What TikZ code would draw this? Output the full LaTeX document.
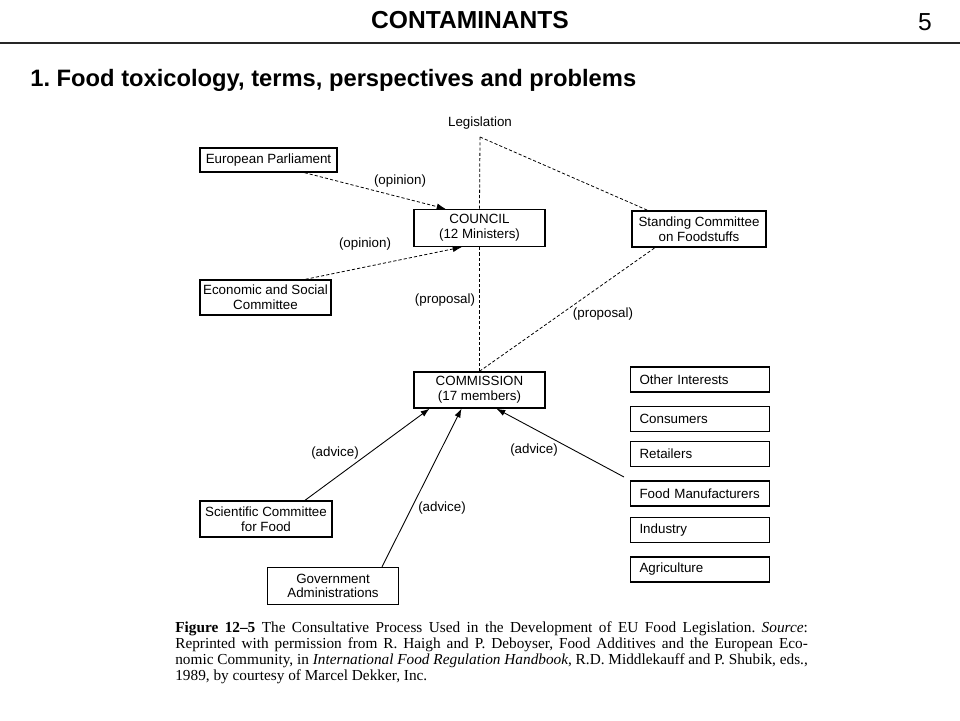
\documentclass[tikz,border=0pt]{standalone}
\usepackage{fontspec}
\setmainfont{Liberation Sans}
\newfontfamily\capfont[Ligatures=TeX]{Liberation Serif}
\usetikzlibrary{arrows.meta,calc}
\frenchspacing
\hyphenpenalty=10000
\begin{document}
\begin{tikzpicture}[x=0.02cm,y=-0.02cm,
  box/.style={draw=black,line width=0.8pt,inner sep=0pt,align=center,font=\fontsize{7.6}{8.4}\selectfont},
  sbox/.style={draw=black,line width=0.8pt,inner ysep=0pt,inner xsep=0.18cm,text width=2.42cm,minimum height=0.5cm,align=left,font=\fontsize{7.6}{8.4}\selectfont},
  lbl/.style={font=\fontsize{7.6}{8.4}\selectfont,inner sep=0pt},
  dsh/.style={line width=0.45pt,dash pattern=on 1.8pt off 1.2pt},
  sol/.style={line width=0.5pt},
  tip/.style={-{Latex[length=5pt,width=3.6pt]}}]
\useasboundingbox (0,0) rectangle (960,720);
% header
\node[font=\fontsize{14}{16}\selectfont\bfseries,inner sep=0pt] (title) at (470,20) {CONTAMINANTS};
\node[font=\fontsize{14}{16}\selectfont,inner sep=0pt] (pnum) at (925,22) {5};
\draw[line width=1pt,black!85] (0,43) -- (960,43);
\node[font=\fontsize{13.5}{16}\selectfont\bfseries,inner sep=0pt,anchor=west] (head) at (30,80) {1. Food toxicology, terms, perspectives and problems};
% diagram
\node[lbl] (legis) at (480,123) {Legislation};
\coordinate (L) at (480,137);
\node[box,minimum width=2.74cm,minimum height=0.48cm] (ep) at (268.5,160) {European Parliament};
\node[box,minimum width=2.62cm,minimum height=0.74cm] (council) at (479.5,228) {COUNCIL\\(12 Ministers)};
\node[box,minimum width=2.62cm,minimum height=0.70cm] (esc) at (265.5,297.5) {Economic and Social\\Committee};
\node[box,minimum width=2.68cm,minimum height=0.72cm] (stand) at (699,229) {Standing Committee\\on Foodstuffs};
\node[box,minimum width=2.62cm,minimum height=0.72cm] (comm) at (479.5,390) {COMMISSION\\(17 members)};
\node[box,minimum width=2.64cm,minimum height=0.72cm] (scf) at (266,519) {Scientific Committee\\for Food};
\node[box,minimum width=2.62cm,minimum height=0.74cm] (ga) at (333,586) {Government\\Administrations};
\node[sbox] (oi) at (700,379.5) {Other Interests};
\node[sbox] (cons) at (700,419) {Consumers};
\node[sbox] (ret) at (700,454) {Retailers};
\node[sbox] (fm) at (700,493.5) {Food Manufacturers};
\node[sbox] (ind) at (700,530) {Industry};
\node[sbox] (agr) at (700,569.5) {Agriculture};
\coordinate (rf) at (624,477);
% dashed connectors
\draw[dsh] (L) -- (council.north);
\draw[dsh] (council.south) -- (comm.north);
\draw[dsh] (L) -- (stand.160);
\draw[dsh] (comm.north) -- (stand.203);
\draw[dsh,tip] ($(ep.south)+(36,0)$) -- ($(council.north)+(-34,0)$);
\draw[dsh,tip] ($(esc.north)+(40,0)$) -- ($(council.south)+(-18,0)$);
% solid connectors
\draw[sol,tip] ($(scf.north)+(39,0)$) -- ($(comm.south)+(-50,0)$);
\draw[sol,tip] ($(ga.north)+(49,0)$) -- ($(comm.south)+(-18,0)$);
\draw[sol,tip] (rf) -- ($(comm.south)+(17,0)$);
% labels
\node[lbl] (op1) at (400,181) {(opinion)};
\node[lbl] (op2) at (365,244) {(opinion)};
\node[lbl] (pr1) at (445,300) {(proposal)};
\node[lbl] (pr2) at (603,314) {(proposal)};
\node[lbl] (ad1) at (335,453) {(advice)};
\node[lbl] (ad2) at (442,508) {(advice)};
\node[lbl] (ad3) at (534,450) {(advice)};
% caption
\node[anchor=north west,inner sep=0pt,font=\capfont\fontsize{8.7}{9.25}\selectfont,text width=360pt,align=justify] (cap) at (175,621) {\textbf{Figure 12–5} The Consultative Process Used in the Development of EU Food Legislation. \textit{Source}:\linebreak Reprinted with permission from R. Haigh and P. Deboyser, Food Additives and the European Eco-\linebreak nomic Community, in \textit{International Food Regulation Handbook}, R.D. Middlekauff and P. Shubik, eds.,\linebreak 1989, by courtesy of Marcel Dekker, Inc.};
\end{tikzpicture}
\end{document}
